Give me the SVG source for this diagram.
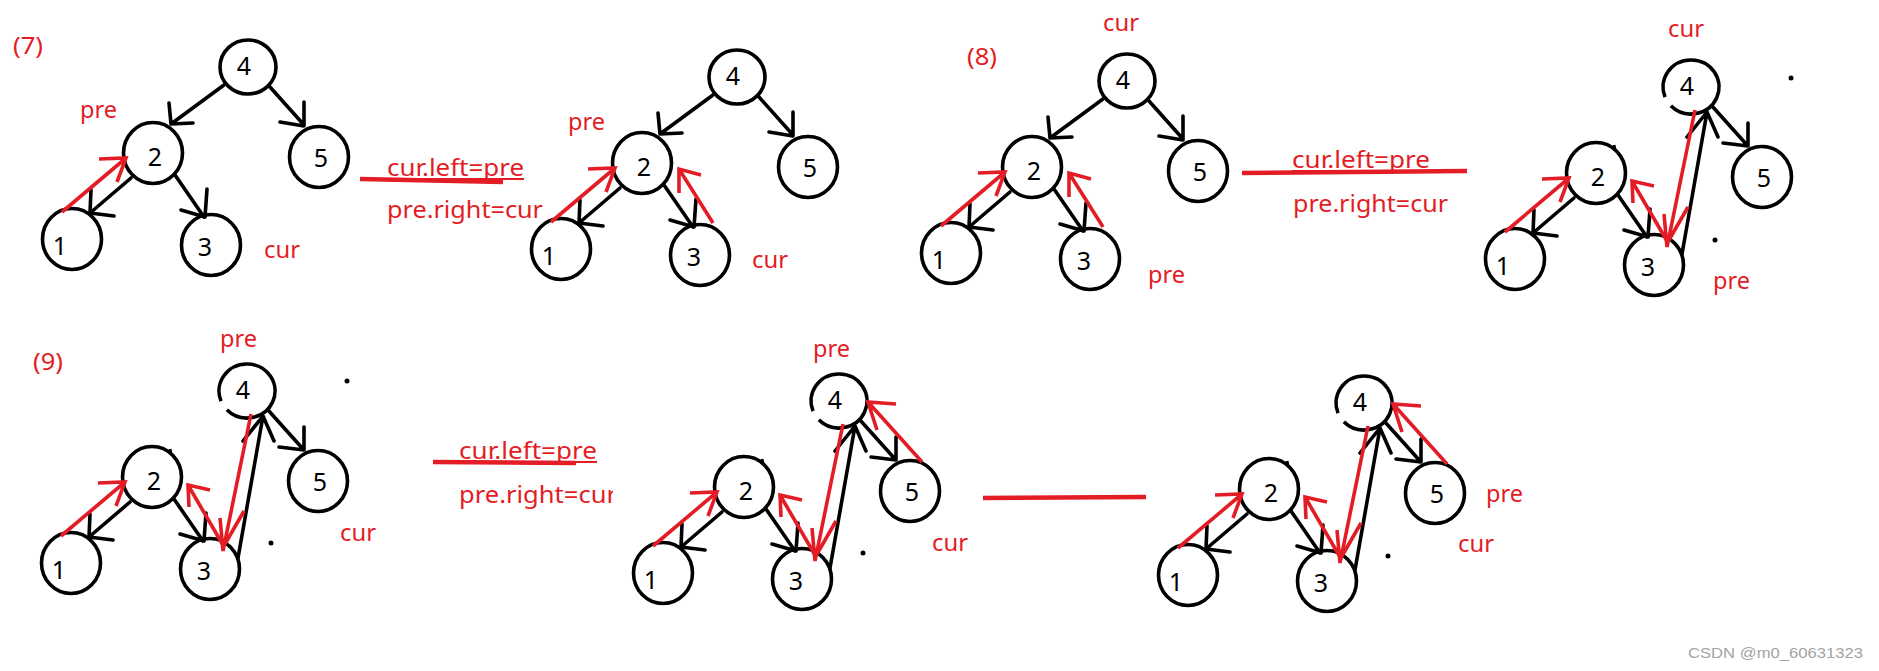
<svg xmlns="http://www.w3.org/2000/svg" width="1879" height="671" viewBox="0 0 1879 671">
<style>
.node ellipse,.node path.c{fill:#fff;stroke:#000;stroke-width:3.6}
.node path.t{fill:none;stroke:#000;stroke-width:3}
.node text{font-family:"Noto Sans","Open Sans",sans-serif;font-size:25px;fill:#000;text-anchor:middle}
.blk{fill:none;stroke:#000;stroke-width:3.6;stroke-linecap:round;stroke-linejoin:round}
.red{fill:none;stroke:#e31d25;stroke-width:3.6;stroke-linecap:butt;stroke-linejoin:miter}
.lbl{font-family:"Noto Sans","Open Sans",sans-serif;font-size:23px;fill:#e31d25}
.bar{stroke:#e31d25;stroke-width:4.5;fill:none}
.ul{stroke:#e31d25;stroke-width:2;fill:none}
.dot{fill:#000}
</style>
<defs>
<clipPath id="clip9"><rect x="440" y="470" width="173" height="50"/></clipPath>
</defs>
<rect width="1879" height="671" fill="#fff"/>

<!-- Panel (7) first tree -->
<g id="p7a" transform="translate(248,67)">
  <g id="p7a-n4" class="node"><ellipse cx="0" cy="0" rx="28" ry="27"/><text x="-4" y="8">4</text></g>
  <g id="p7a-n2" class="node"><ellipse cx="-95" cy="86" rx="29.5" ry="30.5"/><text x="-93" y="99">2</text></g>
  <g id="p7a-n5" class="node"><ellipse cx="71" cy="90" rx="29.5" ry="30.5"/><text x="73" y="100">5</text></g>
  <g id="p7a-n1" class="node"><ellipse cx="-176" cy="172" rx="29.5" ry="30.5"/><text x="-188" y="188">1</text></g>
  <g id="p7a-n3" class="node"><ellipse cx="-37" cy="178" rx="29.5" ry="30.5"/><text x="-43" y="189">3</text></g>
  <g id="p7a-edges">
    <path class="blk" d="M-24 18 L-77 57 M-79 36 L-77 57 L-55 56"/>
    <path class="blk" d="M22 20 L56 58 M56 35 L56 59 L32 55"/>
    <path class="blk" d="M-117 111 L-158 146 M-157 123 L-158 146 L-134 149"/>
    <path class="blk" d="M-73 108 L-44 150 M-41 122 L-43 150 L-67 143"/>
    <path class="red" d="M-186 145 L-122 91 M-149 92 L-122 91 L-131 115"/>
  </g>
</g>
<text class="lbl" x="13" y="54" textLength="30" lengthAdjust="spacingAndGlyphs">(7)</text>
<text class="lbl" x="80" y="118" textLength="37" lengthAdjust="spacingAndGlyphs">pre</text>
<text class="lbl" x="264" y="258" textLength="36" lengthAdjust="spacingAndGlyphs">cur</text>
<path class="bar" d="M360 179 L503 182"/>
<path class="ul" d="M387 179 L524 179"/>
<text class="lbl" x="387" y="176" textLength="137" lengthAdjust="spacingAndGlyphs">cur.left=pre</text>
<text class="lbl" x="387" y="218" textLength="156" lengthAdjust="spacingAndGlyphs">pre.right=cur</text>

<!-- Panel (7) second tree -->
<g id="p7b" transform="translate(737,77)">
  <g id="p7b-n4" class="node"><ellipse cx="0" cy="0" rx="28" ry="27"/><text x="-4" y="8">4</text></g>
  <g id="p7b-n2" class="node"><ellipse cx="-95" cy="86" rx="29.5" ry="30.5"/><text x="-93" y="99">2</text></g>
  <g id="p7b-n5" class="node"><ellipse cx="71" cy="90" rx="29.5" ry="30.5"/><text x="73" y="100">5</text></g>
  <g id="p7b-n1" class="node"><ellipse cx="-176" cy="172" rx="29.5" ry="30.5"/><text x="-188" y="188">1</text></g>
  <g id="p7b-n3" class="node"><ellipse cx="-37" cy="178" rx="29.5" ry="30.5"/><text x="-43" y="189">3</text></g>
  <g id="p7b-edges">
    <path class="blk" d="M-24 18 L-77 57 M-79 36 L-77 57 L-55 56"/>
    <path class="blk" d="M22 20 L56 58 M56 35 L56 59 L32 55"/>
    <path class="blk" d="M-117 111 L-158 146 M-157 123 L-158 146 L-134 149"/>
    <path class="blk" d="M-73 108 L-44 150 M-41 122 L-43 150 L-67 143"/>
    <path class="red" d="M-186 145 L-122 91 M-149 92 L-122 91 L-131 115"/>
    <path class="red" d="M-24 146 L-58 92 M-58 116 L-58 92 L-36 98"/>
  </g>
</g>
<text class="lbl" x="568" y="130" textLength="37" lengthAdjust="spacingAndGlyphs">pre</text>
<text class="lbl" x="752" y="268" textLength="36" lengthAdjust="spacingAndGlyphs">cur</text>

<!-- Panel (8) first tree -->
<g id="p8a" transform="translate(1127,81)">
  <g id="p8a-n4" class="node"><ellipse cx="0" cy="0" rx="28" ry="27"/><text x="-4" y="8">4</text></g>
  <g id="p8a-n2" class="node"><ellipse cx="-95" cy="86" rx="29.5" ry="30.5"/><text x="-93" y="99">2</text></g>
  <g id="p8a-n5" class="node"><ellipse cx="71" cy="90" rx="29.5" ry="30.5"/><text x="73" y="100">5</text></g>
  <g id="p8a-n1" class="node"><ellipse cx="-176" cy="172" rx="29.5" ry="30.5"/><text x="-188" y="188">1</text></g>
  <g id="p8a-n3" class="node"><ellipse cx="-37" cy="178" rx="29.5" ry="30.5"/><text x="-43" y="189">3</text></g>
  <g id="p8a-edges">
    <path class="blk" d="M-24 18 L-77 57 M-79 36 L-77 57 L-55 56"/>
    <path class="blk" d="M22 20 L56 58 M56 35 L56 59 L32 55"/>
    <path class="blk" d="M-117 111 L-158 146 M-157 123 L-158 146 L-134 149"/>
    <path class="blk" d="M-73 108 L-44 150 M-41 122 L-43 150 L-67 143"/>
    <path class="red" d="M-186 145 L-122 91 M-149 92 L-122 91 L-131 115"/>
    <path class="red" d="M-24 146 L-58 92 M-58 116 L-58 92 L-36 98"/>
  </g>
</g>
<text class="lbl" x="967" y="65" textLength="30" lengthAdjust="spacingAndGlyphs">(8)</text>
<text class="lbl" x="1103" y="31" textLength="36" lengthAdjust="spacingAndGlyphs">cur</text>
<text class="lbl" x="1148" y="283" textLength="37" lengthAdjust="spacingAndGlyphs">pre</text>
<path class="bar" d="M1242 173 L1467 171"/>
<path class="ul" d="M1292 171 L1430 171"/>
<text class="lbl" x="1292" y="168" textLength="138" lengthAdjust="spacingAndGlyphs">cur.left=pre</text>
<text class="lbl" x="1293" y="212" textLength="155" lengthAdjust="spacingAndGlyphs">pre.right=cur</text>

<!-- Panel (8) second tree -->
<g id="p8b" transform="translate(1691,87)">
  <g id="p8b-n4" class="node"><path class="c" d="M-25.96 10.11 A28 27 0 1 1 -20.14 18.76"/><text x="-4" y="8">4</text></g>
  <g id="p8b-n2" class="node"><ellipse cx="-95" cy="86" rx="29.5" ry="30.5"/><path class="t" d="M-77 58 L-76 63"/><text x="-93" y="99">2</text></g>
  <g id="p8b-n5" class="node"><ellipse cx="71" cy="90" rx="29.5" ry="30.5"/><text x="73" y="100">5</text></g>
  <g id="p8b-n1" class="node"><ellipse cx="-176" cy="172" rx="29.5" ry="30.5"/><text x="-188" y="188">1</text></g>
  <g id="p8b-n3" class="node"><ellipse cx="-37" cy="178" rx="29.5" ry="30.5"/><text x="-43" y="189">3</text></g>
  <g id="p8b-edges">
    <path class="blk" d="M21 19 L56 58 M57 36 L57 59 L32 56"/>
    <path class="blk" d="M-117 111 L-158 146 M-157 123 L-158 146 L-134 149"/>
    <path class="blk" d="M-73 108 L-44 150 M-41 122 L-43 150 L-67 143"/>
    <path class="blk" d="M-9 167 L16 25 M-4 50 L16 25 L27 50"/>
    <path class="red" d="M-186 145 L-122 91 M-149 92 L-122 91 L-131 115"/>
    <path class="red" d="M-24 154 L-59 94 M-58 116 L-59 94 L-37 99"/>
    <path class="red" d="M4 23 L-24 160 M-27 127 L-24 160 M-3 120 L-22 153"/>
  </g>
</g>
<circle class="dot" cx="1791" cy="78" r="2.5"/>
<circle class="dot" cx="1715" cy="240" r="2.5"/>
<text class="lbl" x="1668" y="37" textLength="36" lengthAdjust="spacingAndGlyphs">cur</text>
<text class="lbl" x="1713" y="289" textLength="37" lengthAdjust="spacingAndGlyphs">pre</text>

<!-- Panel (9) first tree -->
<g id="p9a" transform="translate(247,391)">
  <g id="p9a-n4" class="node"><path class="c" d="M-25.96 10.11 A28 27 0 1 1 -20.14 18.76"/><text x="-4" y="8">4</text></g>
  <g id="p9a-n2" class="node"><ellipse cx="-95" cy="86" rx="29.5" ry="30.5"/><path class="t" d="M-77 58 L-76 63"/><text x="-93" y="99">2</text></g>
  <g id="p9a-n5" class="node"><ellipse cx="71" cy="90" rx="29.5" ry="30.5"/><text x="73" y="100">5</text></g>
  <g id="p9a-n1" class="node"><ellipse cx="-176" cy="172" rx="29.5" ry="30.5"/><text x="-188" y="188">1</text></g>
  <g id="p9a-n3" class="node"><ellipse cx="-37" cy="178" rx="29.5" ry="30.5"/><text x="-43" y="189">3</text></g>
  <g id="p9a-edges">
    <path class="blk" d="M21 19 L56 58 M57 36 L57 59 L32 56"/>
    <path class="blk" d="M-117 111 L-158 146 M-157 123 L-158 146 L-134 149"/>
    <path class="blk" d="M-73 108 L-44 150 M-41 122 L-43 150 L-67 143"/>
    <path class="blk" d="M-9 167 L16 25 M-4 50 L16 25 L27 50"/>
    <path class="red" d="M-186 145 L-122 91 M-149 92 L-122 91 L-131 115"/>
    <path class="red" d="M-24 154 L-59 94 M-58 116 L-59 94 L-37 99"/>
    <path class="red" d="M4 23 L-24 160 M-27 127 L-24 160 M-3 120 L-22 153"/>
  </g>
</g>
<circle class="dot" cx="347" cy="381" r="2.5"/>
<circle class="dot" cx="271" cy="543" r="2.5"/>
<text class="lbl" x="33" y="370" textLength="30" lengthAdjust="spacingAndGlyphs">(9)</text>
<text class="lbl" x="220" y="347" textLength="37" lengthAdjust="spacingAndGlyphs">pre</text>
<text class="lbl" x="340" y="541" textLength="36" lengthAdjust="spacingAndGlyphs">cur</text>
<path class="bar" d="M433 462 L576 463"/>
<path class="ul" d="M459 462 L597 462"/>
<text class="lbl" x="459" y="459" textLength="138" lengthAdjust="spacingAndGlyphs">cur.left=pre</text>
<text class="lbl" x="459" y="503" textLength="158" lengthAdjust="spacingAndGlyphs" clip-path="url(#clip9)">pre.right=cur</text>

<!-- Panel (9) second tree -->
<g id="p9b" transform="translate(839,401)">
  <g id="p9b-n4" class="node"><path class="c" d="M-25.96 10.11 A28 27 0 1 1 -20.14 18.76"/><text x="-4" y="8">4</text></g>
  <g id="p9b-n2" class="node"><ellipse cx="-95" cy="86" rx="29.5" ry="30.5"/><path class="t" d="M-77 58 L-76 63"/><text x="-93" y="99">2</text></g>
  <g id="p9b-n5" class="node"><ellipse cx="71" cy="90" rx="29.5" ry="30.5"/><text x="73" y="100">5</text></g>
  <g id="p9b-n1" class="node"><ellipse cx="-176" cy="172" rx="29.5" ry="30.5"/><text x="-188" y="188">1</text></g>
  <g id="p9b-n3" class="node"><ellipse cx="-37" cy="178" rx="29.5" ry="30.5"/><text x="-43" y="189">3</text></g>
  <g id="p9b-edges">
    <path class="blk" d="M21 19 L56 58 M57 36 L57 59 L32 56"/>
    <path class="blk" d="M-117 111 L-158 146 M-157 123 L-158 146 L-134 149"/>
    <path class="blk" d="M-73 108 L-44 150 M-41 122 L-43 150 L-67 143"/>
    <path class="blk" d="M-9 167 L16 25 M-4 50 L16 25 L27 50"/>
    <path class="red" d="M-186 145 L-122 91 M-149 92 L-122 91 L-131 115"/>
    <path class="red" d="M-24 154 L-59 94 M-58 116 L-59 94 L-37 99"/>
    <path class="red" d="M4 23 L-24 160 M-27 127 L-24 160 M-3 120 L-22 153"/>
    <path class="red" d="M83 61 L29 1 M57 3 L29 1 L38 29"/>
  </g>
</g>
<circle class="dot" cx="863" cy="553" r="2.5"/>
<text class="lbl" x="813" y="357" textLength="37" lengthAdjust="spacingAndGlyphs">pre</text>
<text class="lbl" x="932" y="551" textLength="36" lengthAdjust="spacingAndGlyphs">cur</text>
<path class="bar" d="M983 498 L1146 497"/>

<!-- Panel (9) third tree -->
<g id="p9c" transform="translate(1364,403)">
  <g id="p9c-n4" class="node"><path class="c" d="M-25.96 10.11 A28 27 0 1 1 -20.14 18.76"/><text x="-4" y="8">4</text></g>
  <g id="p9c-n2" class="node"><ellipse cx="-95" cy="86" rx="29.5" ry="30.5"/><path class="t" d="M-77 58 L-76 63"/><text x="-93" y="99">2</text></g>
  <g id="p9c-n5" class="node"><ellipse cx="71" cy="90" rx="29.5" ry="30.5"/><text x="73" y="100">5</text></g>
  <g id="p9c-n1" class="node"><ellipse cx="-176" cy="172" rx="29.5" ry="30.5"/><text x="-188" y="188">1</text></g>
  <g id="p9c-n3" class="node"><ellipse cx="-37" cy="178" rx="29.5" ry="30.5"/><text x="-43" y="189">3</text></g>
  <g id="p9c-edges">
    <path class="blk" d="M21 19 L56 58 M57 36 L57 59 L32 56"/>
    <path class="blk" d="M-117 111 L-158 146 M-157 123 L-158 146 L-134 149"/>
    <path class="blk" d="M-73 108 L-44 150 M-41 122 L-43 150 L-67 143"/>
    <path class="blk" d="M-9 167 L16 25 M-4 50 L16 25 L27 50"/>
    <path class="red" d="M-186 145 L-122 91 M-149 92 L-122 91 L-131 115"/>
    <path class="red" d="M-24 154 L-59 94 M-58 116 L-59 94 L-37 99"/>
    <path class="red" d="M4 23 L-24 160 M-27 127 L-24 160 M-3 120 L-22 153"/>
    <path class="red" d="M83 61 L29 1 M57 3 L29 1 L38 29"/>
  </g>
</g>
<circle class="dot" cx="1388" cy="556" r="2.5"/>
<text class="lbl" x="1486" y="502" textLength="37" lengthAdjust="spacingAndGlyphs">pre</text>
<text class="lbl" x="1458" y="552" textLength="36" lengthAdjust="spacingAndGlyphs">cur</text>

<text x="1688" y="658" font-family="Liberation Sans, Arial, sans-serif" font-size="15" fill="#a3a3a3" textLength="175" lengthAdjust="spacingAndGlyphs">CSDN @m0_60631323</text>
</svg>
